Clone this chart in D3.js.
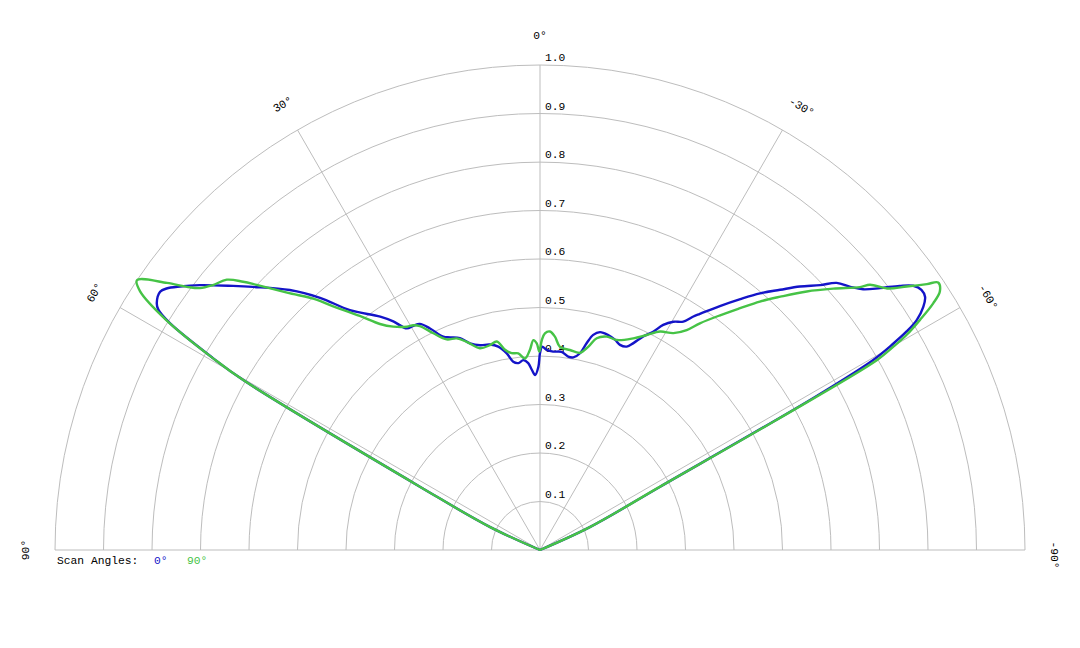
<!DOCTYPE html>
<html>
<head>
<meta charset="utf-8">
<script src="https://cdn.jsdelivr.net/npm/d3@7"></script>
<style>
  body { margin: 0; background: #fff; }
  text { font-family: "Liberation Mono", "Courier New", monospace; font-size: 11.3px; fill: #000; }
</style>
</head>
<body>
<div id="chart"></div>
<script>
// rings and spokes of the polar grid
var ringValues = [0.1, 0.2, 0.3, 0.4, 0.5, 0.6, 0.7, 0.8, 0.9, 1.0]
var spokeAngles = [60, 30, 0, -30, -60]
var angleLabels = [90, 60, 30, 0, -30, -60, -90]

// series: angle in degrees (positive = left of vertical), normalised amplitude
var scanNames = ["0°", "90°"]
var scanColors = ["#1414c8", "#46c346"]

var scan0Angles = [90, 65.3, 62.2, 60.2, 59.6, 58.5, 57.8, 57.2, 55.8, 55.0, 53.8, 52.1, 49.3, 47.5, 43.9, 41.1, 38.4, 34.4, 32.7, 31.0,
  29.5, 28.0, 26.4, 24.4, 22.9, 20.7, 18.7, 16.3, 13.7, 11.6, 9.6, 8.1, 6.6, 5.0, 3.6, 2.6, 1.6, 0.5, 0, -0.6,
  -1.9, -3.8, -6.2, -8.3, -9.8, -11.5, -12.7, -13.9, -15.4, -17.6, -19.7, -21.3, -23.1, -24.3, -25.8, -27.4, -28.7, -30.3, -32.1, -33.3,
  -34.1, -36.4, -38.6, -40.6, -42.7, -44.6, -46.6, -48.0, -49.7, -51.1, -52.4, -53.7, -54.7, -55.7, -56.7, -57.6, -58.6, -59.2, -59.7, -60.3,
  -60.9, -62.2, -65.3, -90]
var scan0Values = [0, 0.113, 0.28, 0.706, 0.782, 0.895, 0.93, 0.94, 0.947, 0.94, 0.92, 0.889, 0.835, 0.803, 0.744, 0.690, 0.631, 0.583, 0.560, 0.533,
  0.531, 0.528, 0.510, 0.483, 0.476, 0.467, 0.450, 0.440, 0.436, 0.428, 0.411, 0.392, 0.388, 0.393, 0.386, 0.372, 0.361, 0.378, 0.406, 0.419,
  0.413, 0.410, 0.411, 0.403, 0.403, 0.414, 0.437, 0.457, 0.466, 0.465, 0.460, 0.454, 0.456, 0.468, 0.489, 0.507, 0.529, 0.545, 0.556, 0.576,
  0.588, 0.625, 0.662, 0.697, 0.730, 0.763, 0.795, 0.823, 0.839, 0.856, 0.885, 0.920, 0.943, 0.952, 0.950, 0.936, 0.910, 0.880, 0.844, 0.791,
  0.65, 0.28, 0.113, 0]

var scan90Angles = [90, 65.3, 62.2, 60.2, 59.6, 58.4, 57.1, 56.2, 54.4, 53.3, 52.4, 51.0, 49.2, 47.9, 46.9, 44.5, 41.7, 40.6, 37.6, 35.3,
  33.3, 30.8, 29.4, 28.2, 26.2, 23.9, 21.5, 19.4, 16.6, 13.7, 11.7, 9.9, 8.2, 6.3, 4.5, 2.9, 1.8, 0.9, 0.2, -0.5,
  -1.3, -2.6, -4.0, -5.6, -8.5, -11.5, -13.4, -15.0, -17.4, -20.1, -23.8, -26.4, -28.8, -31.6, -33.7, -35.2, -37.5, -39.6, -41.5, -43.5,
  -45.9, -48.3, -50.6, -51.2, -53.0, -54.3, -55.5, -56.1, -57.1, -57.9, -58.8, -59.6, -60.1, -60.6, -61.2, -62.2, -65.3, -90]
var scan90Values = [0, 0.113, 0.28, 0.706, 0.782, 0.904, 0.982, 1.0, 0.946, 0.908, 0.885, 0.868, 0.853, 0.825, 0.80, 0.744, 0.691, 0.665, 0.609, 0.571,
  0.551, 0.536, 0.532, 0.524, 0.498, 0.475, 0.469, 0.455, 0.434, 0.435, 0.439, 0.419, 0.410, 0.408, 0.396, 0.413, 0.433, 0.426, 0.409, 0.433,
  0.447, 0.451, 0.441, 0.421, 0.417, 0.415, 0.431, 0.452, 0.461, 0.461, 0.477, 0.495, 0.514, 0.525, 0.545, 0.572, 0.610, 0.647, 0.684, 0.720,
  0.766, 0.810, 0.854, 0.873, 0.896, 0.931, 0.968, 0.989, 0.982, 0.957, 0.916, 0.876, 0.840, 0.797, 0.55, 0.28, 0.113, 0]

var width = 1080, height = 648
var cx = 540, cy = 550, R = 485
var gridColor = "#bdbdbd"
var rad = function(a) { return a * Math.PI / 180 }

var svg = d3.select("#chart").append("svg")
    .attr("width", width)
    .attr("height", height)

var rScale = d3.scaleLinear().domain([0, 1]).range([0, R])

var g = svg.append("g").attr("transform", "translate(" + cx + "," + cy + ")")

// half rings
g.selectAll(".ring")
    .data(ringValues)
    .enter().append("path")
    .attr("class", "ring")
    .attr("fill", "none")
    .attr("stroke", gridColor)
    .attr("d", function(d) {
        var r = rScale(d)
        return "M" + (-r) + ",0A" + r + "," + r + " 0 0 1 " + r + ",0"
    })

// base line and spokes
g.append("line")
    .attr("x1", -R).attr("x2", R)
    .attr("y1", 0).attr("y2", 0)
    .attr("stroke", gridColor)
g.selectAll(".spoke")
    .data(spokeAngles)
    .enter().append("line")
    .attr("class", "spoke")
    .attr("x1", 0).attr("y1", 0)
    .attr("x2", function(d) { return -R * Math.sin(rad(d)) })
    .attr("y2", function(d) { return -R * Math.cos(rad(d)) })
    .attr("stroke", gridColor)

// ring labels
g.selectAll(".ringLabel")
    .data(ringValues)
    .enter().append("text")
    .attr("class", "ringLabel")
    .attr("x", 5)
    .attr("y", function(d) { return -rScale(d) - 4 })
    .text(function(d) { return d.toFixed(1) })

// angle labels, rotated to the tangent
var labelR = 514
g.selectAll(".angleLabel")
    .data(angleLabels)
    .enter().append("text")
    .attr("class", "angleLabel")
    .attr("text-anchor", "middle")
    .attr("dominant-baseline", "central")
    .attr("dx", function(d) { return d < 0 ? 5 : 0 })
    .attr("transform", function(d) {
        var x = -labelR * Math.sin(rad(d)), y = -labelR * Math.cos(rad(d))
        return "translate(" + x + "," + y + ") rotate(" + (-d) + ")"
    })
    .text(function(d) { return d + "°" })

// series
var series = [
    d3.zip(scan0Angles, scan0Values),
    d3.zip(scan90Angles, scan90Values)
]
var line = d3.lineRadial()
    .angle(function(d) { return -rad(d[0]) })
    .radius(function(d) { return rScale(d[1]) })
    .curve(d3.curveCatmullRom.alpha(0.5))

g.selectAll(".scan")
    .data(series)
    .enter().append("path")
    .attr("class", "scan")
    .attr("fill", "none")
    .attr("stroke", function(d, i) { return scanColors[i] })
    .attr("stroke-width", 2.4)
    .attr("stroke-linejoin", "round")
    .attr("d", line)

// legend
var legend = svg.append("g").attr("transform", "translate(57,561)")
legend.append("text")
    .attr("dominant-baseline", "central")
    .text("Scan Angles:")
var legendX = [97, 130]
legend.selectAll(".legendItem")
    .data(scanNames)
    .enter().append("text")
    .attr("class", "legendItem")
    .attr("x", function(d, i) { return legendX[i] })
    .attr("dominant-baseline", "central")
    .style("fill", function(d, i) { return scanColors[i] })
    .text(function(d) { return d })
</script>
</body>
</html>
